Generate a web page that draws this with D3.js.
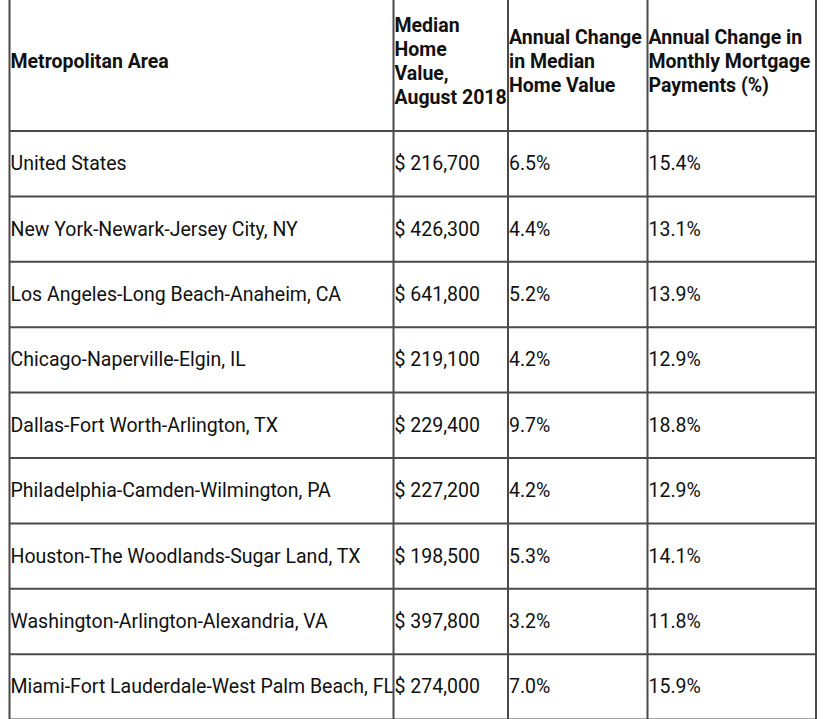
<!DOCTYPE html>
<html>
<head>
<meta charset="utf-8">
<script src="https://cdn.jsdelivr.net/npm/d3@7"></script>
<style>
  html, body { margin: 0; padding: 0; background: #fff; }
  svg { display: block; }
</style>
</head>
<body>
<svg id="chart" width="830" height="719"></svg>
<script>
// ---- data ----
const metros = [
  "United States",
  "New York-Newark-Jersey City, NY",
  "Los Angeles-Long Beach-Anaheim, CA",
  "Chicago-Naperville-Elgin, IL",
  "Dallas-Fort Worth-Arlington, TX",
  "Philadelphia-Camden-Wilmington, PA",
  "Houston-The Woodlands-Sugar Land, TX",
  "Washington-Arlington-Alexandria, VA",
  "Miami-Fort Lauderdale-West Palm Beach, FL"
];
const medianValues = [216700, 426300, 641800, 219100, 229400, 227200, 198500, 397800, 274000];
const valueChange = [6.5, 4.4, 5.2, 4.2, 9.7, 4.2, 5.3, 3.2, 7.0];
const mortgageChange = [15.4, 13.1, 13.9, 12.9, 18.8, 12.9, 14.1, 11.8, 15.9];
const headers = [
  ["Metropolitan Area"],
  ["Median", "Home", "Value,", "August 2018"],
  ["Annual Change", "in Median", "Home Value"],
  ["Annual Change in", "Monthly Mortgage", "Payments (%)"]
];

// ---- layout ----
const svg = d3.select("#chart");
const colEdges = [9.5, 393.5, 508, 647.5, 816];
const headerTop = -10, headerBottom = 131, rowH = 65.4;
const fontFamily = "Roboto, 'Noto Sans', sans-serif";
const fontSize = 19.5;
const lineH = 24;
const lineColor = "#4a4a4a";

const y = d3.scaleBand()
  .domain(metros)
  .range([headerBottom, headerBottom + rowH * metros.length])
  .paddingInner(0).paddingOuter(0);

const fmtMoney = d => "$ " + d3.format(",")(d);
const fmtPct = d => d3.format(".1f")(d) + "%";

const rows = metros.map((m, i) => [m, fmtMoney(medianValues[i]), fmtPct(valueChange[i]), fmtPct(mortgageChange[i])]);

// header text
const headerCenter = (headerTop + headerBottom) / 2 + 0.5;
headers.forEach((lines, c) => {
  const t = svg.append("text")
    .attr("font-family", fontFamily)
    .attr("font-size", fontSize)
    .attr("font-weight", "bold")
    .attr("fill", "#111");
  const n = lines.length;
  lines.forEach((ln, k) => {
    t.append("tspan")
      .attr("x", colEdges[c] + 1)
      .attr("y", headerCenter + (k - (n - 1) / 2) * lineH)
      .attr("dominant-baseline", "central")
      .text(ln);
  });
});

// body text
const rowG = svg.selectAll("g.row").data(rows).join("g").attr("class", "row");
rowG.selectAll("text").data(d => d).join("text")
  .attr("x", (d, c) => colEdges[c] + 1)
  .attr("y", function() {
    const r = d3.select(this.parentNode).datum();
    return y(r[0]) + y.bandwidth() / 2;
  })
  .attr("dominant-baseline", "central")
  .attr("font-family", fontFamily)
  .attr("font-size", fontSize)
  .attr("fill", "#111")
  .text(d => d);

// grid lines
const hLines = [headerBottom, ...metros.map(m => y(m) + y.bandwidth())];
svg.selectAll("line.h").data(hLines).join("line")
  .attr("class", "h")
  .attr("x1", colEdges[0]).attr("x2", colEdges[colEdges.length - 1])
  .attr("y1", d => d).attr("y2", d => d)
  .attr("stroke", lineColor).attr("stroke-width", 2);
svg.selectAll("line.v").data(colEdges).join("line")
  .attr("class", "v")
  .attr("x1", d => d).attr("x2", d => d)
  .attr("y1", headerTop).attr("y2", hLines[hLines.length - 1])
  .attr("stroke", lineColor).attr("stroke-width", 2);
</script>
</body>
</html>
